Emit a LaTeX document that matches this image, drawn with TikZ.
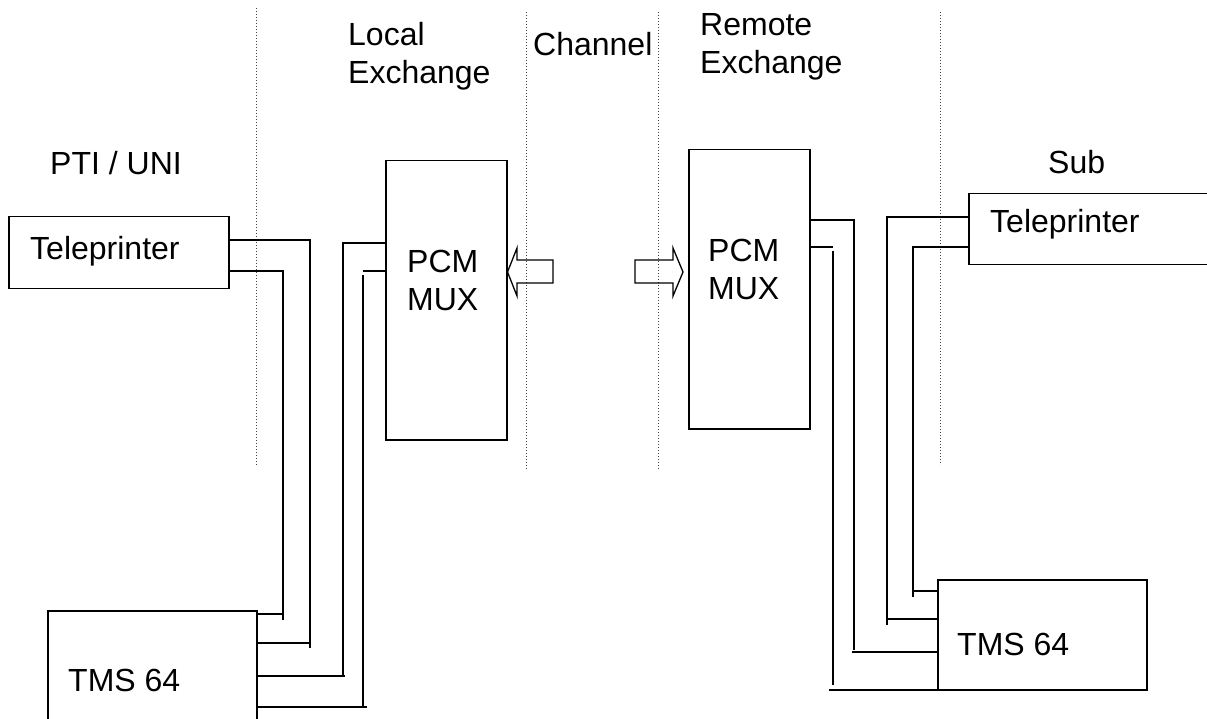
\documentclass[tikz,border=0pt]{standalone}
\usepackage{fontspec}
\setmainfont{Liberation Sans}
\begin{document}
\begin{tikzpicture}[x=1pt,y=-1pt,
  box/.style={draw, line width=1.5pt, inner sep=0pt, anchor=north west},
  lab/.style={inner sep=0pt, font=\fontsize{32}{38}\selectfont, align=left},
  wire/.style={line width=1.3pt},
  sep/.style={line width=1pt, dotted, black!75},
  fat/.style={draw, line width=1.3pt, line join=miter}]
\useasboundingbox (0,0) rectangle (1207,719);
\clip (0,0) rectangle (1207,719);
% dotted separators
\draw[sep] (256,8) -- (256,465);
\draw[sep] (526,12) -- (526,470);
\draw[sep] (658,12) -- (658,470);
\draw[sep] (940,12) -- (940,465);
% labels
\node[lab, anchor=west] (lPTI) at (50,163) {PTI / UNI};
\node[lab, anchor=west] (lLoc) at (348,56) {Local\\Exchange};
\node[lab, anchor=west] (lCh) at (533,44) {Channel};
\node[lab, anchor=west] (lRem) at (700,47) {Remote\\Exchange};
\node[lab, anchor=west] (lSub) at (1048,162) {Sub};
% boxes
\node[box, minimum width=220pt, minimum height=72pt] (tpL) at (8,216) {};
\node[box, minimum width=209pt, minimum height=130pt] (tmsL) at (47,610) {};
\node[box, minimum width=121pt, minimum height=279pt] (pcmL) at (385,160) {};
\node[box, minimum width=121pt, minimum height=279pt] (pcmR) at (688,149) {};
\node[box, minimum width=260pt, minimum height=71pt] (tpR) at (968,193) {};
\node[box, minimum width=209pt, minimum height=110pt] (tmsR) at (937,579) {};
% box texts
\node[lab, anchor=west] (tTpL) at (30,251) {Teleprinter};
\node[lab, anchor=west] (tTmsL) at (68,680) {TMS 64};
\node[lab, anchor=west] (tPcmL) at (407,280) {PCM\\MUX};
\node[lab, anchor=west] (tPcmR) at (708,269) {PCM\\MUX};
\node[lab, anchor=west] (tTpR) at (990,224) {Teleprinter};
\node[lab, anchor=west] (tTmsR) at (957,644) {TMS 64};
% left wiring
\coordinate (a1) at (310,240); \coordinate (a2) at (310,648); \coordinate (a3) at (310,643);
\draw[wire] (tpL.east |- a1) -- (a1) -- (a2);
\draw[wire] (tmsL.east |- a3) -- (a3);
\coordinate (b1) at (283,271); \coordinate (b2) at (283,620); \coordinate (b3) at (283,614);
\draw[wire] (tpL.east |- b1) -- (b1) -- (b2);
\draw[wire] (tmsL.east |- b3) -- (b3);
\coordinate (c1) at (343,243); \coordinate (c2) at (343,676); \coordinate (c3) at (345,676);
\draw[wire] (pcmL.west |- c1) -- (c1) -- (c2);
\draw[wire] (tmsL.east |- c3) -- (c3);
\coordinate (d1) at (363,271); \coordinate (d0) at (363,275); \coordinate (d2) at (363,707); \coordinate (d3) at (367,707);
\draw[wire] (pcmL.west |- d1) -- (d1);
\draw[wire] (d0) -- (d2);
\draw[wire] (tmsL.east |- d3) -- (d3);
% right wiring
\coordinate (e1) at (854,220); \coordinate (e2) at (854,650); \coordinate (e3) at (852,652);
\draw[wire] (pcmR.east |- e1) -- (e1) -- (e2);
\draw[wire] (e3) -- (tmsR.west |- e3);
\coordinate (f1) at (833,247); \coordinate (f0) at (833,251); \coordinate (f2) at (833,685); \coordinate (f3) at (829,690);
\draw[wire] (pcmR.east |- f1) -- (f1);
\draw[wire] (f0) -- (f2);
\draw[wire] (f3) -- (tmsR.west |- f3);
\coordinate (g1) at (887,217); \coordinate (g2) at (887,625); \coordinate (g3) at (887,619);
\draw[wire] (tpR.west |- g1) -- (g1) -- (g2);
\draw[wire] (g3) -- (tmsR.west |- g3);
\coordinate (h1) at (913,247); \coordinate (h2) at (913,597); \coordinate (h3) at (913,591);
\draw[wire] (tpR.west |- h1) -- (h1) -- (h2);
\draw[wire] (h3) -- (tmsR.west |- h3);
% channel arrows
\draw[fat] (pcmL.east |- 0,272) -- (517,248) -- (517,260) -- (553,260) -- (553,283) -- (517,283) -- (517,296) -- cycle;
\draw[fat] (635,260) -- (673,260) -- (673,248) -- (683,272) -- (673,296) -- (673,283) -- (635,283) -- cycle;
\end{tikzpicture}
\end{document}
